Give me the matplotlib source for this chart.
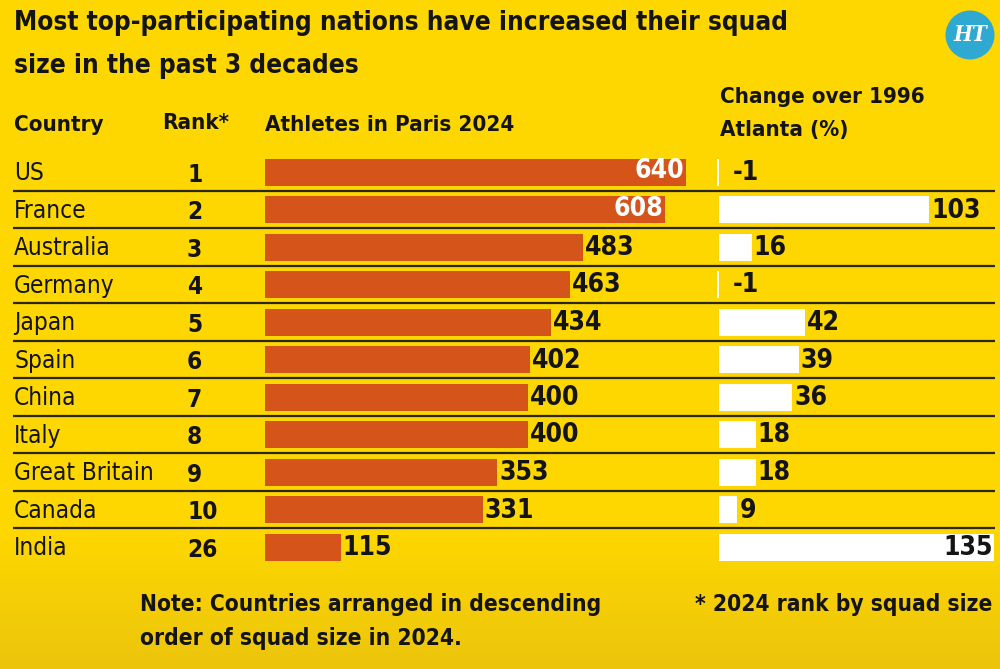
import matplotlib
matplotlib.use("Agg")
import matplotlib.pyplot as plt
import numpy as np
from matplotlib.patches import Circle

plt.rcParams['font.family'] = ['DejaVu Sans']
plt.rcParams['font.stretch'] = 'condensed'

countries = ['US', 'France', 'Australia', 'Germany', 'Japan', 'Spain',
             'China', 'Italy', 'Great Britain', 'Canada', 'India']
ranks = [1, 2, 3, 4, 5, 6, 7, 8, 9, 10, 26]
athletes_2024 = [640, 608, 483, 463, 434, 402, 400, 400, 353, 331, 115]
change_pct = [-1, 103, 16, -1, 42, 39, 36, 18, 18, 9, 135]

title_lines = ['Most top-participating nations have increased their squad',
               'size in the past 3 decades']
note_lines = ['Note: Countries arranged in descending', 'order of squad size in 2024.']
rank_note = '* 2024 rank by squad size'

bar_col = '#D4541A'
ink = '#141414'

W, H = 1000, 669
fig = plt.figure(figsize=(W / 100, H / 100), dpi=100)

# background with a slight darkening towards the bottom
ax_bg = fig.add_axes([0, 0, 1, 1], zorder=-5)
grad = np.linspace(0, 1, 200).reshape(-1, 1)
top = np.array(matplotlib.colors.to_rgb('#FED700'))
bot = np.array(matplotlib.colors.to_rgb('#ECC50C'))
mix = np.clip((grad - 0.8) / 0.2, 0, 1)
img = top * (1 - mix[..., None]) + bot * mix[..., None]
ax_bg.imshow(img, aspect='auto', extent=[0, 1, 0, 1], origin='upper')
ax_bg.axis('off')

n = len(countries)
rows = np.arange(n)
row_top_px, row_pitch = 153.25, 37.5
tab_bottom = 1 - (row_top_px + n * row_pitch) / H
tab_height = n * row_pitch / H

# table axes (labels + separators), x in pixels
ax_tab = fig.add_axes([0, tab_bottom, 1, tab_height], zorder=1)
ax_tab.set_xlim(0, W)
ax_tab.set_ylim(n - 0.5, -0.5)
ax_tab.axis('off')
ax_tab.patch.set_alpha(0)
ax_tab.hlines(rows[:-1] + 0.5, 13, 995, color='#2b2615', lw=1.6)
for i in rows:
    ax_tab.text(14, i + 0.03, countries[i], fontsize=17.5, color=ink, va='center', ha='left')
    ax_tab.text(187, i + 0.07, str(ranks[i]), fontsize=17.5, fontweight='bold', color=ink,
                va='center', ha='left')

# athletes bars
px_per_ath = 0.658
ax1 = fig.add_axes([265 / W, tab_bottom, 700 * px_per_ath / W, tab_height], zorder=2)
ax1.barh(rows, athletes_2024, height=0.72, color=bar_col)
ax1.set_xlim(0, 700)
ax1.set_ylim(n - 0.5, -0.5)
ax1.axis('off')
for i, v in enumerate(athletes_2024):
    if v > 600:
        ax1.annotate(str(v), (v, i), xytext=(-2, 1), textcoords='offset pixels',
                     ha='right', va='center', fontsize=19, fontweight='bold', color='white')
    else:
        ax1.annotate(str(v), (v, i), xytext=(2, -1), textcoords='offset pixels',
                     ha='left', va='center', fontsize=19, fontweight='bold', color=ink)

# change bars
px_per_pct = 2.04
x0 = -2
ax2 = fig.add_axes([(719 + x0 * px_per_pct) / W, tab_bottom, 138 * px_per_pct / W, tab_height], zorder=2)
ax2.barh(rows, change_pct, height=0.72, color='white')
ax2.set_xlim(x0, 136)
ax2.set_ylim(n - 0.5, -0.5)
ax2.axis('off')
for i, v in enumerate(change_pct):
    if v >= 130:
        ax2.annotate(str(v), (v, i), xytext=(-2, -1), textcoords='offset pixels',
                     ha='right', va='center', fontsize=19, fontweight='bold', color=ink)
    elif v < 0:
        ax2.annotate(str(v), (0, i), xytext=(14, -1), textcoords='offset pixels',
                     ha='left', va='center', fontsize=19, fontweight='bold', color=ink)
    else:
        ax2.annotate(str(v), (v, i), xytext=(2, -1), textcoords='offset pixels',
                     ha='left', va='center', fontsize=19, fontweight='bold', color=ink)

# title
fig.text(14 / W, 1 - 23 / H, title_lines[0], fontsize=18.8, fontweight='bold', color=ink,
         va='center', ha='left')
fig.text(14 / W, 1 - 66 / H, title_lines[1], fontsize=18.8, fontweight='bold', color=ink,
         va='center', ha='left')

# column headers
hdr = dict(fontsize=16, fontweight='bold', color=ink, va='center', ha='left')
fig.text(14 / W, 1 - 125 / H, 'Country', **hdr)
fig.text(162 / W, 1 - 123 / H, 'Rank*', **hdr)
fig.text(265 / W, 1 - 125 / H, 'Athletes in Paris 2024', **hdr)
fig.text(720 / W, 1 - 97 / H, 'Change over 1996', **hdr)
fig.text(720 / W, 1 - 130 / H, 'Atlanta (%)', **hdr)

# footnotes
fig.text(140 / W, 1 - 604 / H, note_lines[0], fontsize=16.3, fontweight='bold', color=ink,
         va='center', ha='left')
fig.text(140 / W, 1 - 638 / H, note_lines[1], fontsize=16.3, fontweight='bold', color=ink,
         va='center', ha='left')
fig.text(992 / W, 1 - 604 / H, rank_note, fontsize=16.3, fontweight='bold', color=ink,
         va='center', ha='right')

# HT logo
logo = Circle((9.70, (H - 35) / 100), 0.245, transform=fig.dpi_scale_trans,
              facecolor='#2FA9D2', edgecolor='none')
fig.patches.append(logo)
fig.text(970 / W, 1 - 35 / H, 'HT', fontsize=16, color='white', family='DejaVu Serif',
         fontweight='bold', style='italic', ha='center', va='center')

fig.savefig('out.png', dpi=100)
